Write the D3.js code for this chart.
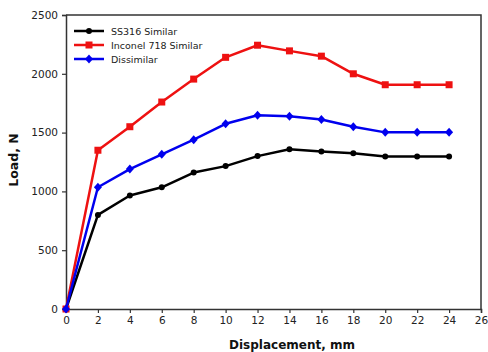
<!DOCTYPE html>
<html>
<head>
<meta charset="utf-8">
<script src="https://cdn.jsdelivr.net/npm/d3@7"></script>
<style>
  body { margin: 0; background: #fff; }
  svg { display: block; }
  .tick text { font-family: "DejaVu Sans", sans-serif; font-size: 10.5px; fill: #222; }
</style>
</head>
<body>
<svg id="chart" width="488" height="352"></svg>
<script>
const displacement = [0, 2, 4, 6, 8, 10, 12, 14, 16, 18, 20, 22, 24];
const ss316 = [0, 800, 965, 1035, 1160, 1215, 1300, 1358, 1340, 1325, 1297, 1297, 1297];
const inconel = [0, 1350, 1550, 1760, 1955, 2140, 2243, 2195, 2150, 2000, 1907, 1907, 1907];
const dissimilar = [0, 1035, 1190, 1315, 1440, 1575, 1647, 1640, 1612, 1550, 1502, 1502, 1502];
const seriesNames = ["SS316 Similar", "Inconel 718 Similar", "Dissimilar"];
const xTicks = [0, 2, 4, 6, 8, 10, 12, 14, 16, 18, 20, 22, 24, 26];
const yTicks = [0, 500, 1000, 1500, 2000, 2500];

const svg = d3.select("#chart"),
    margin = {top: 15, right: 7, bottom: 43, left: 66},
    width = 488 - margin.left - margin.right,
    height = 352 - margin.top - margin.bottom;

const x = d3.scaleLinear().domain([0, 26]).range([margin.left, margin.left + width]);
const y = d3.scaleLinear().domain([0, 2500]).range([margin.top + height, margin.top]);

const series = [
  {name: seriesNames[0], values: ss316, color: "#000000", shape: "circle"},
  {name: seriesNames[1], values: inconel, color: "#ee1111", shape: "square"},
  {name: seriesNames[2], values: dissimilar, color: "#0000ee", shape: "diamond"}
];

// frame (top + right)
svg.append("path")
  .attr("d", `M${x(0)},${y(2500)}H${x(26)}V${y(0)}`)
  .attr("fill", "none").attr("stroke", "#333").attr("stroke-width", 1.5);

const xAxis = svg.append("g")
  .attr("transform", `translate(0,${y(0)})`)
  .call(d3.axisBottom(x).tickValues(xTicks).tickSize(4).tickPadding(4));
const yAxis = svg.append("g")
  .attr("transform", `translate(${x(0)},0)`)
  .call(d3.axisLeft(y).tickValues(yTicks).tickFormat(d3.format("d")).tickSize(4).tickPadding(4));
[xAxis, yAxis].forEach(a => {
  a.select(".domain").attr("stroke", "#333").attr("stroke-width", 1.5);
  a.selectAll(".tick line").attr("stroke", "#333").attr("stroke-width", 1.2);
});

function marker(sel, shape, color) {
  if (shape === "circle") {
    sel.append("circle").attr("r", 3).attr("fill", color);
  } else if (shape === "square") {
    sel.append("rect").attr("x", -3.5).attr("y", -3.5).attr("width", 7).attr("height", 7).attr("fill", color);
  } else {
    sel.append("path").attr("d", "M0,-4.5L4,0L0,4.5L-4,0Z").attr("fill", color);
  }
}

const line = d3.line()
  .x((d, i) => x(displacement[i]))
  .y(d => y(d));

series.forEach(s => {
  svg.append("path")
    .attr("d", line(s.values))
    .attr("fill", "none")
    .attr("stroke", s.color)
    .attr("stroke-width", 2.5)
    .attr("stroke-linejoin", "round");
  s.values.forEach((v, i) => {
    const g = svg.append("g").attr("transform", `translate(${x(displacement[i])},${y(v)})`);
    marker(g, s.shape, s.color);
  });
});

// legend
const legend = svg.append("g").attr("transform", "translate(74,31)");
series.forEach((s, i) => {
  const row = legend.append("g").attr("transform", `translate(0,${i * 14})`);
  row.append("line").attr("x1", 0).attr("x2", 30)
    .attr("stroke", s.color).attr("stroke-width", 2.5);
  marker(row.append("g").attr("transform", "translate(15,0)"), s.shape, s.color);
  row.append("text")
    .attr("x", 37).attr("y", 3.5)
    .attr("font-family", "DejaVu Sans, sans-serif")
    .attr("font-size", "9.5px")
    .attr("fill", "#222")
    .text(s.name);
});

// axis titles
svg.append("text")
  .attr("x", 292).attr("y", 349)
  .attr("text-anchor", "middle")
  .attr("font-family", "DejaVu Sans, sans-serif")
  .attr("font-size", "12px").attr("font-weight", "700")
  .attr("fill", "#111")
  .text("Displacement, mm");

svg.append("text")
  .attr("transform", "translate(18,160) rotate(-90)")
  .attr("text-anchor", "middle")
  .attr("font-family", "DejaVu Sans, sans-serif")
  .attr("font-size", "12.5px").attr("font-weight", "700")
  .attr("fill", "#111")
  .text("Load, N");
</script>
</body>
</html>
